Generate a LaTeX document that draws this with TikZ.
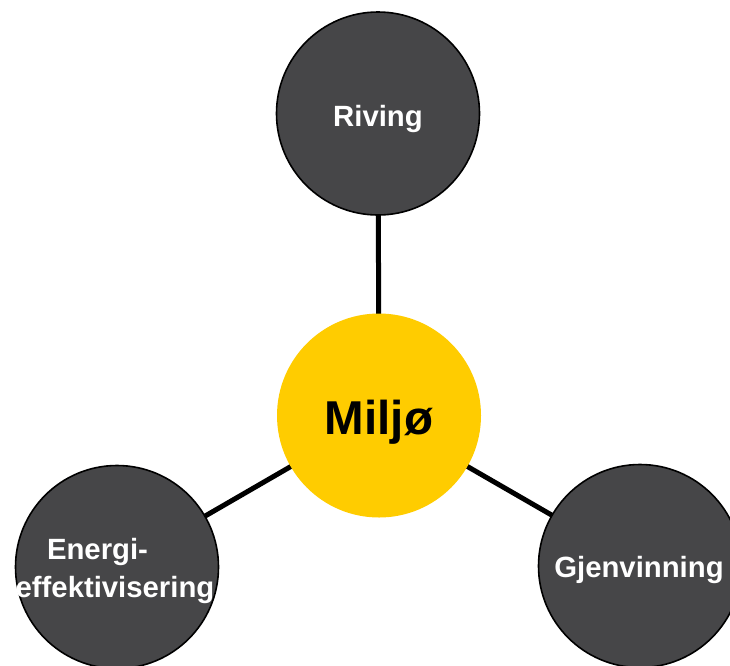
\documentclass[tikz,border=0pt]{standalone}
\usepackage{fontspec}
\setmainfont{Liberation Sans}
\definecolor{darkc}{HTML}{464648}
\definecolor{yellowc}{HTML}{FFCC00}
\begin{document}
\begin{tikzpicture}[x=1pt,y=-1pt,
  outer/.style={circle,fill=darkc,draw=black,line width=1.6pt,minimum size=203pt,inner sep=0pt},
  inner/.style={circle,fill=yellowc,minimum size=204pt,inner sep=0pt},
  link/.style={line width=5pt,black},
  lbl/.style={text=white,font=\fontsize{29.3}{37}\selectfont\bfseries,anchor=base,inner sep=0pt},
  mainlbl/.style={text=black,font=\fontsize{47.5}{50}\selectfont\bfseries,anchor=base,inner sep=0pt}]
\useasboundingbox (0,0) rectangle (730,665);
\clip (0,0) rectangle (730,665);
\coordinate (cM) at (379,415.5);
\coordinate (cR) at (378,113.5);
\coordinate (cE) at (117,567);
\coordinate (cG) at (640,566);
\draw[link] (cM) -- (cR);
\draw[link] (cM) -- (cE);
\draw[link] (cM) -- (cG);
\node[outer] (riving) at (cR) {};
\node[outer] (energi) at (cE) {};
\node[outer] (gjen) at (cG) {};
\node[inner] (miljo) at (cM) {};
\node[mainlbl] (tM) at (379,434) {Miljø};
\node[lbl] (tR) at (378,126) {Riving};
\node[lbl] (tG) at (639,577) {Gjenvinning};
\node[lbl] (tE1) at (97.5,559) {Energi-};
\node[lbl] (tE2) at (115,597) {effektivisering};
\end{tikzpicture}
\end{document}
